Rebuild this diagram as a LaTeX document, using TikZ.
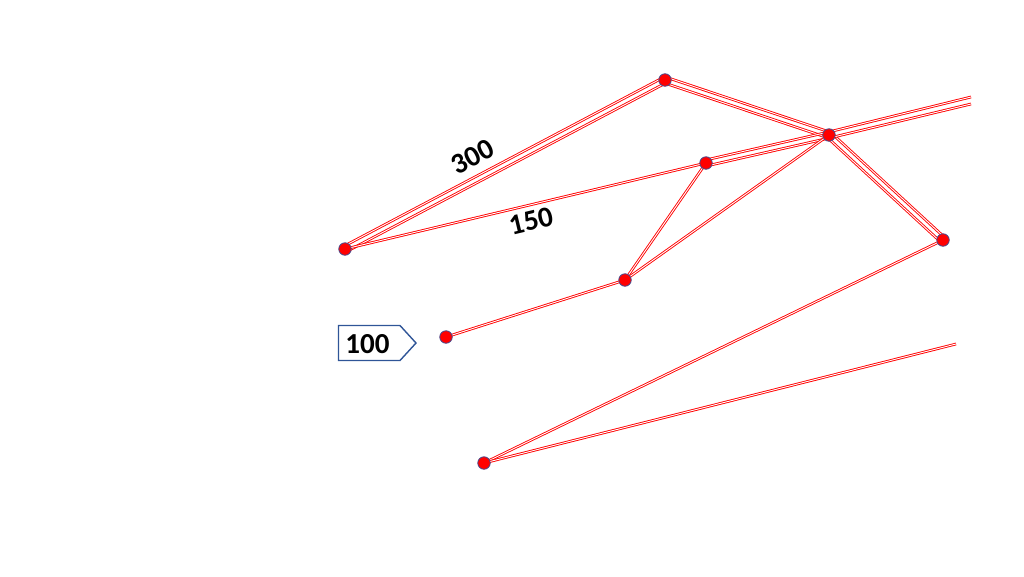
\documentclass[tikz,border=0pt]{standalone}
\usepackage{fontspec}
\setmainfont{Carlito}
\usetikzlibrary{calc}
\definecolor{dotedge}{HTML}{4A4A8C}
\definecolor{boxedge}{HTML}{2F5597}
\tikzset{
  rail/.style={draw=red, line width=0.9pt, double=white, double distance=0.9pt},
  dot/.style={circle, fill=red, draw=dotedge, line width=0.8pt, minimum size=12.5pt, inner sep=0pt},
  lbl/.style={font=\fontsize{29}{33}\selectfont\bfseries, inner sep=0pt},
  tagline/.style={draw=boxedge, line width=1.4pt, line join=miter}
}
\begin{document}
\begin{tikzpicture}[x=1pt,y=-1pt]
\useasboundingbox (0,0) rectangle (1024,576);
\coordinate (A) at (665,80);
\coordinate (B) at (829,135);
\coordinate (C) at (706,163);
\coordinate (D) at (345,249);
\coordinate (F) at (943,240);
\coordinate (G) at (625,280);
\coordinate (H) at (446,337);
\coordinate (K) at (484,463);
\coordinate (E1) at (971,97);
\coordinate (E2) at (971,104);
\coordinate (E3) at (956,344);
% double pairs
\draw[rail] ($(D)!3pt!90:(A)$) -- ($(A)!3pt!-90:(D)$);
\draw[rail] ($(D)!3pt!-90:(A)$) -- ($(A)!3pt!90:(D)$);
\draw[rail] ($(A)!3pt!90:(B)$) -- ($(B)!3pt!-90:(A)$);
\draw[rail] ($(A)!3pt!-90:(B)$) -- ($(B)!3pt!90:(A)$);
\draw[rail] ($(B)!3pt!90:(F)$) -- ($(F)!3pt!-90:(B)$);
\draw[rail] ($(B)!3pt!-90:(F)$) -- ($(F)!3pt!90:(B)$);
\draw[rail] ($(C)!3pt!90:(B)$) -- ($(B)!3pt!-90:(C)$);
\draw[rail] ($(C)!3pt!-90:(B)$) -- ($(B)!3pt!90:(C)$);
\draw[rail] ($(B)!3pt!90:(E1)$) -- (E1);
\draw[rail] ($(B)!3pt!-90:(E1)$) -- (E2);
% single
\draw[rail] (D) -- (C);
\draw[rail] (G) -- (C);
\draw[rail] (G) -- (B);
\draw[rail] (H) -- (G);
\draw[rail] (K) -- (F);
\draw[rail] (K) -- (E3);
% nodes
\foreach \p in {A,B,C,D,F,G,H,K} \node[dot] (n\p) at (\p) {};
% labels
\node[lbl, rotate=27.8] (l300) at (473,157) {300};
\node[lbl, rotate=13.4] (l150) at (531,221) {150};
\coordinate (T1) at (338.5,325.5);
\coordinate (T2) at (400,325.5);
\coordinate (T3) at (416,343);
\coordinate (T4) at (400,360.5);
\coordinate (T5) at (338.5,360.5);
\draw[tagline] (T1) -- (T2) -- (T3) -- (T4) -- (T5) -- cycle;
\node[lbl] (t100) at (367.5,344) {100};
\end{tikzpicture}
\end{document}
